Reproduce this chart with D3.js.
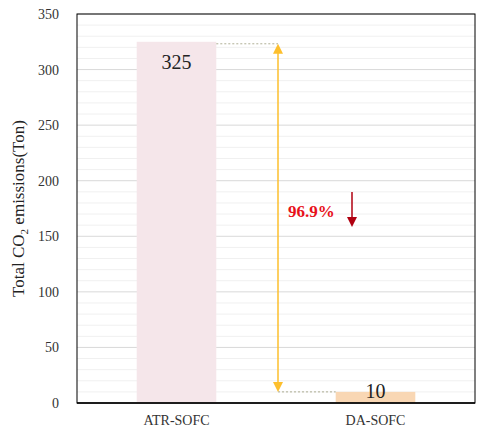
<!DOCTYPE html>
<html><head><meta charset="utf-8">
<script src="https://cdn.jsdelivr.net/npm/d3@7"></script>
<style>body{margin:0;background:#fff;font-family:"Liberation Serif","Times New Roman",serif;}</style>
</head><body><svg id="chart" width="482" height="432"></svg>
<script>
var categories = ["ATR-SOFC", "DA-SOFC"];
var values = [325, 10];
var barColors = ["#f5e6ea", "#f9d7b4"];
var yTicks = [0, 50, 100, 150, 200, 250, 300, 350];
var reduction = "96.9%";

var m = {left: 77, right: 7, top: 14, bottom: 29};
var W = 482, H = 432;
var svg = d3.select("#chart");
var x = d3.scaleBand().domain(categories).range([m.left, W - m.right]).paddingInner(0.6).paddingOuter(0.3);
var y = d3.scaleLinear().domain([0, 350]).range([H - m.bottom, m.top]);

// minor grid
svg.append("g").selectAll("line").data(d3.range(0, 351, 10)).enter().append("line")
  .attr("x1", m.left).attr("x2", W - m.right)
  .attr("y1", d => y(d)).attr("y2", d => y(d))
  .attr("stroke", d => d % 50 == 0 ? "#d9d9d9" : "#f0f0f0").attr("stroke-width", 1);

// bars
svg.append("g").selectAll("rect").data(values).enter().append("rect")
  .attr("x", (d, i) => x(categories[i])).attr("width", x.bandwidth())
  .attr("y", d => y(d)).attr("height", d => y(0) - y(d))
  .attr("fill", (d, i) => barColors[i]);

svg.append("g").selectAll("text").data(values).enter().append("text")
  .attr("x", (d, i) => x(categories[i]) + x.bandwidth() / 2)
  .attr("y", (d, i) => i == 0 ? y(d) + 27 : y(d) + 6)
  .attr("text-anchor", "middle").attr("font-size", 20).attr("fill", "#222")
  .text(d => d);

// frame
svg.append("rect").attr("x", m.left).attr("y", m.top)
  .attr("width", W - m.left - m.right).attr("height", H - m.top - m.bottom)
  .attr("fill", "none").attr("stroke", "#000").attr("stroke-width", 1);
svg.append("line").attr("x1", m.left).attr("x2", W - m.right)
  .attr("y1", y(0)).attr("y2", y(0)).attr("stroke", "#000").attr("stroke-width", 1.5);

// axes
var yAxis = svg.append("g").attr("transform", "translate(" + m.left + ",0)")
  .call(d3.axisLeft(y).tickValues(yTicks).tickSize(0).tickPadding(18));
yAxis.select(".domain").remove();
yAxis.selectAll("text").attr("font-size", 14).attr("font-family", "Liberation Serif").attr("fill", "#333");
var xAxis = svg.append("g").attr("transform", "translate(0," + y(0) + ")")
  .call(d3.axisBottom(x).tickSize(0).tickPadding(12));
xAxis.select(".domain").remove();
xAxis.selectAll("text").attr("font-size", 14).attr("font-family", "Liberation Serif").attr("fill", "#333");

// y label
var lab = svg.append("text").attr("transform", "translate(24," + ((m.top + H - m.bottom) / 2) + ") rotate(-90)")
  .attr("text-anchor", "middle").attr("font-size", 17).attr("fill", "#222");
lab.append("tspan").text("Total CO");
lab.append("tspan").attr("font-size", 11).attr("dy", 4).text("2");
lab.append("tspan").attr("dy", -4).text(" emissions(Ton)");

// annotation
var ax = 278;
var yTop = y(values[0]) + 2, yBot = y(values[1]);
svg.append("line").attr("x1", x(categories[0]) + x.bandwidth()).attr("x2", ax)
  .attr("y1", yTop).attr("y2", yTop).attr("stroke", "#9a9a7a").attr("stroke-dasharray", "2,2").attr("stroke-width", 0.8);
svg.append("line").attr("x1", ax).attr("x2", x(categories[1]))
  .attr("y1", yBot).attr("y2", yBot).attr("stroke", "#9a9a7a").attr("stroke-dasharray", "2,2").attr("stroke-width", 0.8);
var yel = "#fdbf2d";
svg.append("line").attr("x1", ax).attr("x2", ax).attr("y1", yTop + 8).attr("y2", yBot - 8).attr("stroke", yel).attr("stroke-width", 1.5);
svg.append("path").attr("d", "M" + (ax - 5) + "," + (yTop + 10) + "L" + ax + "," + yTop + "L" + (ax + 5) + "," + (yTop + 10) + "Z").attr("fill", yel);
svg.append("path").attr("d", "M" + (ax - 5) + "," + (yBot - 10) + "L" + ax + "," + yBot + "L" + (ax + 5) + "," + (yBot - 10) + "Z").attr("fill", yel);

svg.append("text").attr("x", 288).attr("y", 217).attr("font-size", 17).attr("font-weight", "bold")
  .attr("fill", "#e8101a").text(reduction);
var rx = 352;
svg.append("line").attr("x1", rx).attr("x2", rx).attr("y1", 192).attr("y2", 220).attr("stroke", "#b00010").attr("stroke-width", 1.5);
svg.append("path").attr("d", "M" + (rx - 5) + ",217L" + rx + ",227L" + (rx + 5) + ",217Z").attr("fill", "#b00010");
</script></body></html>
